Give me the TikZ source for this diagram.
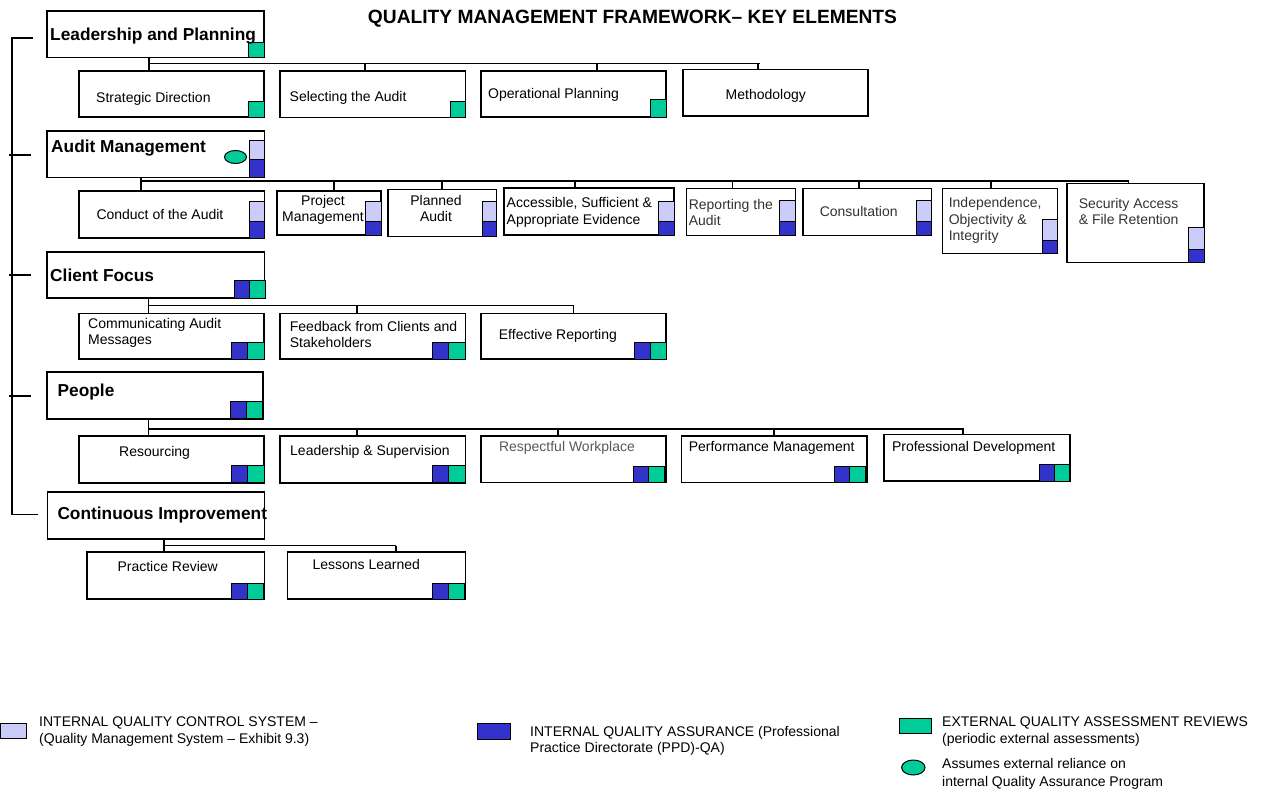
\documentclass[tikz,border=0pt]{standalone}
\usepackage{fontspec}
\setmainfont{Liberation Sans}
\usetikzlibrary{calc}
\definecolor{qclight}{RGB}{204,204,250}
\definecolor{qadark}{RGB}{51,51,204}
\definecolor{eqgreen}{RGB}{0,204,153}
% frame: \qframe[opts]{name}{x1}{y1}{x2}{y2}
\newcommand\qframe[6][]{\node[frame,#1,minimum width={(#5-#3)*1pt},minimum height={(#6-#4)*1pt}] (#2) at (#3,#4) {};}
% coloured marker square: \qsq{style}{x1}{y1}{x2}{y2}
\newcommand\qsq[5]{\draw[#1] (#2,#3) rectangle (#4,#5);}
\begin{document}
\begin{tikzpicture}[x=1pt,y=-1pt,
  frame/.style={draw=black,line width=1.6pt,fill=white,inner sep=0pt,outer sep=0pt,anchor=north west},
  thinframe/.style={line width=1pt},
  conn/.style={draw=black,line width=1.5pt},
  item/.style={anchor=north west,inner sep=0pt,align=left,font=\fontsize{14}{16.5}\selectfont},
  itemc/.style={item,align=center,anchor=north},
  soft/.style={text=black!80},
  head/.style={anchor=north west,inner sep=0pt,font=\fontsize{17.3}{20}\selectfont\bfseries},
  qc/.style={draw=black,line width=1pt,fill=qclight},
  qa/.style={draw=black,line width=1pt,fill=qadark},
  eq/.style={draw=black,line width=1pt,fill=eqgreen},
]
\useasboundingbox (0,0) rectangle (1261,796);

% ---------- title ----------
\node[anchor=north,inner sep=0pt,font=\fontsize{19.2}{22}\selectfont\bfseries] (title) at (632.5,9.5)
  {QUALITY MANAGEMENT FRAMEWORK– KEY ELEMENTS};

% ---------- left bracket joining the five elements ----------
\coordinate (sp-top) at (12,38);
\coordinate (sp-bot) at (12,514.5);
\coordinate (tk1) at (33,38);
\coordinate (tk5) at (38,514.5);
\draw[conn] (tk1) -- (sp-top) -- (sp-bot) -- (tk5);
\coordinate (tk2a) at (9,155);  \coordinate (tk2b) at (31,155);
\coordinate (tk3a) at (9,275);  \coordinate (tk3b) at (31,275);
\coordinate (tk4a) at (9,396);  \coordinate (tk4b) at (31,396);
\draw[conn] (tk2a) -- (tk2b);
\draw[conn] (tk3a) -- (tk3b);
\draw[conn] (tk4a) -- (tk4b);

% ---------- frames ----------
\qframe{lp}{47}{11}{264}{57.5}
\qframe{sd}{79}{71}{264}{117}
\qframe{sel}{280}{71}{465.5}{117.5}
\qframe{op}{481}{71}{666}{117}
\qframe{meth}{683}{69.5}{868}{116}

\qframe{am}{47}{131}{264.5}{177.5}
\qframe{cond}{79}{191}{264.5}{238}
\qframe{pm}{277}{191}{381}{235}
\qframe{pa}{388}{189.5}{496.5}{236.5}
\qframe{ev}{504}{188}{674}{235}
\qframe[thinframe]{rep}{686}{188.5}{795}{235.5}
\qframe{cons}{803}{188.5}{931.5}{235.5}
\qframe[thinframe]{ind}{942}{188.5}{1057.5}{253.5}
\qframe{sec}{1067}{183.5}{1204}{262.5}

\qframe{cf}{47}{252}{264.5}{298}
\qframe{com}{79}{313.5}{264}{359}
\qframe{fb}{280}{313.5}{465.5}{359}
\qframe{er}{481}{313.5}{666}{359}

\qframe{pe}{47}{372}{263}{419}
\qframe{res}{79}{436}{264}{483}
\qframe{ls}{280}{436}{465.5}{483}
\qframe{rw}{481}{436}{666}{482.5}
\qframe{pf}{681.5}{436}{867}{482.5}
\qframe{pd}{884}{434.5}{1070}{481}

\qframe{ci}{47.5}{492}{264.5}{539}
\qframe{pr}{87}{552}{264.5}{599}
\qframe{ll}{287.5}{552}{465.5}{599}

% ---------- connectors ----------
\coordinate (b1) at (149,63.5);   \coordinate (b1e) at (759.5,63.5);
\draw[conn] (lp.south -| b1) -- (b1) -- (b1e);
\foreach \x/\n in {149/sd,365/sel,597/op,758/meth}
  \draw[conn] (b1 -| \x,0) -- (\n.north -| \x,0);

\coordinate (b2) at (141,181);    \coordinate (b2e) at (1128.5,181);
\draw[conn] (am.south -| b2) -- (b2) -- (b2e);
\foreach \x/\n in {141/cond,334/pm,442/pa,575/ev,732.5/rep,859/cons,991/ind,1128.5/sec}
  \draw[conn] (b2 -| \x,0) -- (\n.north -| \x,0);

\coordinate (b3) at (148.7,305.5); \coordinate (b3e) at (573.7,305.5);
\draw[conn] (cf.south -| b3) -- (b3) -- (b3e);
\foreach \x/\n in {148.7/com,357/fb,573.7/er}
  \draw[conn] (b3 -| \x,0) -- (\n.north -| \x,0);

\coordinate (b4) at (148.7,429);  \coordinate (b4e) at (963.5,429);
\draw[conn] (pe.south -| b4) -- (b4) -- (b4e);
\foreach \x/\n in {148.7/res,357/ls,558/rw,774/pf,963/pd}
  \draw[conn] (b4 -| \x,0) -- (\n.north -| \x,0);

\coordinate (b5) at (164,545.5);  \coordinate (b5e) at (396,545.5);
\draw[conn] (ci.south -| b5) -- (b5) -- (b5e);
\foreach \x/\n in {164/pr,396/ll}
  \draw[conn] (b5 -| \x,0) -- (\n.north -| \x,0);

% ---------- marker squares ----------
\qsq{eq}{248.5}{42}{264}{57.5}
\qsq{eq}{248.5}{101.5}{264}{117}
\qsq{eq}{450}{101}{465.5}{117.5}
\qsq{eq}{650.5}{99.5}{666}{117}

\draw[eq] (235.5,157) ellipse [x radius=11,y radius=6.5];
\qsq{qc}{249}{140}{264.5}{159.5}  \qsq{qa}{249}{159.5}{264.5}{177.5}
\qsq{qc}{249}{201}{264.5}{221.7}  \qsq{qa}{249}{221.7}{264.5}{238}
\qsq{qc}{365.5}{201}{381}{221}    \qsq{qa}{365.5}{221}{381}{235}
\qsq{qc}{482}{201}{496.5}{221}    \qsq{qa}{482}{221}{496.5}{236.5}
\qsq{qc}{658}{201}{674}{221.5}    \qsq{qa}{658}{221.5}{674}{235}
\qsq{qc}{779.5}{200.7}{795}{221}  \qsq{qa}{779.5}{221}{795}{235.5}
\qsq{qc}{916}{200.7}{931.5}{221}  \qsq{qa}{916}{221}{931.5}{235.5}
\qsq{qc}{1042}{219}{1057.5}{240}  \qsq{qa}{1042}{240}{1057.5}{253.5}
\qsq{qc}{1188.5}{227.7}{1204}{249} \qsq{qa}{1188.5}{249}{1204}{262.5}

\qsq{qa}{234}{280}{249.5}{298}    \qsq{eq}{249.5}{280}{265}{298}
\qsq{qa}{231}{342.3}{247}{359}    \qsq{eq}{247}{342.3}{264}{359}
\qsq{qa}{432}{342.3}{448}{359}    \qsq{eq}{448}{342.3}{465}{359}
\qsq{qa}{634}{342.3}{650}{359}    \qsq{eq}{650}{342.3}{666}{359}

\qsq{qa}{230}{401}{246}{418.5}    \qsq{eq}{246}{401}{262}{418.5}
\qsq{qa}{231}{465}{247}{482.5}    \qsq{eq}{247}{465}{264}{482.5}
\qsq{qa}{432}{465}{448}{482.5}    \qsq{eq}{448}{465}{465}{482.5}
\qsq{qa}{633}{466.5}{648.5}{482.5} \qsq{eq}{648.5}{466.5}{664.5}{482.5}
\qsq{qa}{834}{466.5}{849.5}{482.5} \qsq{eq}{849.5}{466.5}{865.5}{482.5}
\qsq{qa}{1039}{464.5}{1054}{481}  \qsq{eq}{1054}{464.5}{1069.5}{481}

\qsq{qa}{231}{583.3}{247}{599}    \qsq{eq}{247}{583.3}{263}{599}
\qsq{qa}{432.5}{583.3}{448.3}{599} \qsq{eq}{448.3}{583.3}{464.5}{599}

% ---------- labels ----------
\node[head] (t-lp) at (50,27.3) {Leadership and Planning};
\node[head] (t-am) at (51,140) {Audit Management};
\node[head] (t-cf) at (50,268.3) {Client Focus};
\node[head] (t-pe) at (57.5,383.3) {People};
\node[head] (t-ci) at (57.3,506.7) {Continuous Improvement};

\node[item] (t-sd) at (96,92) {Strategic Direction};
\node[item] (t-sel) at (289.5,91.5) {Selecting the Audit};
\node[item] (t-op) at (488,88) {Operational Planning};
\node[item] (t-meth) at (725.5,89.5) {Methodology};

\node[item] (t-cond) at (96.3,209) {Conduct of the Audit};
\node[itemc] (t-pm) at (323,194.8) {Project\\Management};
\node[itemc] (t-pa) at (436,194.8) {Planned\\Audit};
\node[item] (t-ev) at (506.5,197.5) {Accessible, Sufficient \&\\Appropriate Evidence};
\node[item,soft] (t-rep) at (688.6,199) {Reporting the\\Audit};
\node[item,soft] (t-cons) at (819.6,206) {Consultation};
\node[item,soft] (t-ind) at (948.6,197.5) {Independence,\\Objectivity \&\\Integrity};
\node[item,soft] (t-sec) at (1078.6,198) {Security Access\\\& File Retention};

\node[item] (t-com) at (88,318) {Communicating Audit\\Messages};
\node[item] (t-fb) at (289.7,320.8) {Feedback from Clients and\\Stakeholders};
\node[item] (t-er) at (498.7,329) {Effective Reporting};

\node[item] (t-res) at (119,445.8) {Resourcing};
\node[item] (t-ls) at (290,444.8) {Leadership \& Supervision};
\node[item,text=black!65] (t-rw) at (498.8,440.8) {Respectful Workplace};
\node[item] (t-pf) at (688.6,440.8) {Performance Management};
\node[item] (t-pd) at (891.8,441.5) {Professional Development};

\node[item] (t-pr) at (117.3,560.8) {Practice Review};
\node[item] (t-ll) at (312.3,558.8) {Lessons Learned};

% ---------- legend ----------
\qsq{qc}{0.5}{723.3}{26.7}{738.3}
\node[item,font=\fontsize{14}{17}\selectfont] (k-qc) at (39,716.5)
  {INTERNAL QUALITY CONTROL SYSTEM –\\(Quality Management System – Exhibit 9.3)};
\qsq{qa}{477.3}{723.3}{510}{739.3}
\node[item,font=\fontsize{14}{16.5}\selectfont] (k-qa) at (530,726)
  {INTERNAL QUALITY ASSURANCE (Professional\\Practice Directorate (PPD)-QA)};
\qsq{eq}{899}{718.3}{931.7}{733.3}
\node[item,font=\fontsize{14}{16.5}\selectfont] (k-eq) at (942,717)
  {EXTERNAL QUALITY ASSESSMENT REVIEWS\\(periodic external assessments)};
\draw[eq] (913.3,767.5) ellipse [x radius=11.7,y radius=7.5];
\node[item,font=\fontsize{14}{17.5}\selectfont] (k-rel) at (942,758.5)
  {Assumes external reliance on\\internal Quality Assurance Program};
\end{tikzpicture}
\end{document}
